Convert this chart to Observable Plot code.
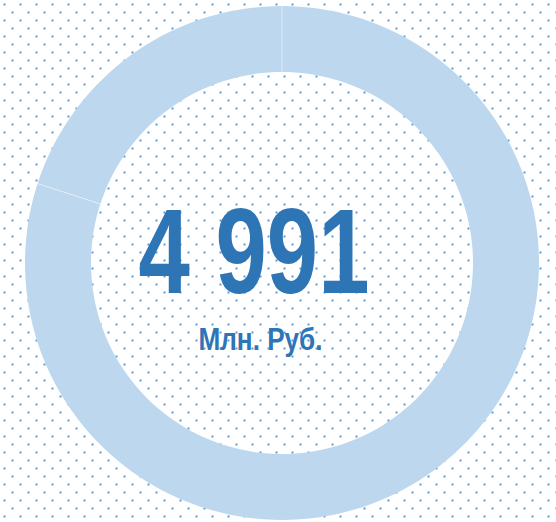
<!DOCTYPE html>
<html>
<head>
<meta charset="utf-8">
<script src="https://cdn.jsdelivr.net/npm/d3@7"></script>
<script src="https://cdn.jsdelivr.net/npm/@observablehq/plot@0.6"></script>
<style>
  html, body { margin: 0; padding: 0; background: #ffffff; }
  #chart svg { display: block; }
</style>
</head>
<body>
<div id="chart"></div>
<script>
// ---- data ----
const segments = ["Сегмент 1", "Сегмент 2"];
const shares = [80, 20];            // share of the ring, %
const totalLabel = ["4 991"];
const unitLabel = ["Млн. Руб."];

// ---- geometry (unit space) ----
const W = 556, H = 522;
const innerRatio = 191 / 257;
const pie = d3.pie().sort(null).startAngle(0).endAngle(2 * Math.PI);
const arcs = pie(shares);

const steps = 180;
const polyPoints = [];
arcs.forEach((a, i) => {
  const n = Math.max(2, Math.ceil(steps * (a.endAngle - a.startAngle) / (2 * Math.PI)));
  for (let k = 0; k <= n; k++) {
    const t = a.startAngle + (a.endAngle - a.startAngle) * k / n;
    polyPoints.push({seg: segments[i], x: Math.sin(t), y: Math.cos(t)});
  }
  for (let k = n; k >= 0; k--) {
    const t = a.startAngle + (a.endAngle - a.startAngle) * k / n;
    polyPoints.push({seg: segments[i], x: innerRatio * Math.sin(t), y: innerRatio * Math.cos(t)});
  }
});
const separators = arcs.map(a => ({
  x1: innerRatio * Math.sin(a.startAngle), y1: innerRatio * Math.cos(a.startAngle),
  x2: Math.sin(a.startAngle), y2: Math.cos(a.startAngle)
}));

const chart = Plot.plot({
  width: W,
  height: H,
  margin: 0,
  x: {domain: [-1, 1], range: [24.5, 538.5], axis: null},
  y: {domain: [-1, 1], range: [519.5, 5.5], axis: null},
  marks: [
    Plot.frame({fill: "url(#dotsPattern)", stroke: "none"}),
    Plot.line(polyPoints, {x: "x", y: "y", z: "seg", fill: "#bdd7ee", stroke: "none", curve: "linear"}),
    Plot.link(separators, {x1: "x1", y1: "y1", x2: "x2", y2: "y2", stroke: "#ffffff", strokeOpacity: 0.45, strokeWidth: 1}),
    Plot.text(totalLabel, {
      x: () => 0, y: () => 0, text: d => d,
      dx: -28, dy: 30, lineAnchor: "bottom",
      fontFamily: "'Liberation Sans', Arial, sans-serif",
      fontWeight: "bold", fontSize: 121, fill: "#2e75b6",
      className: "big-total"
    }),
    Plot.text(unitLabel, {
      x: () => 0, y: () => 0, text: d => d,
      dx: -21.5, dy: 86.5, lineAnchor: "bottom",
      fontFamily: "'Liberation Sans', Arial, sans-serif",
      fontWeight: "bold", fontSize: 31, fill: "#2e75b6",
      className: "unit-label"
    })
  ]
});

// condensed look (narrow font is not installed)
d3.select(chart).selectAll(".big-total text").attr("textLength", 231).attr("lengthAdjust", "spacingAndGlyphs");
d3.select(chart).selectAll(".unit-label text").attr("textLength", 124).attr("lengthAdjust", "spacingAndGlyphs");

const ns = "http://www.w3.org/2000/svg";
const defs = document.createElementNS(ns, "defs");
defs.innerHTML = `<pattern id="dotsPattern" x="0" y="0" width="16" height="16" patternUnits="userSpaceOnUse">
  <rect x="3" y="3" width="2" height="2" fill="#5b9bd5"/>
  <rect x="11" y="11" width="2" height="2" fill="#5b9bd5"/>
</pattern>`;
chart.insertBefore(defs, chart.firstChild);
document.getElementById("chart").appendChild(chart);
</script>
</body>
</html>
